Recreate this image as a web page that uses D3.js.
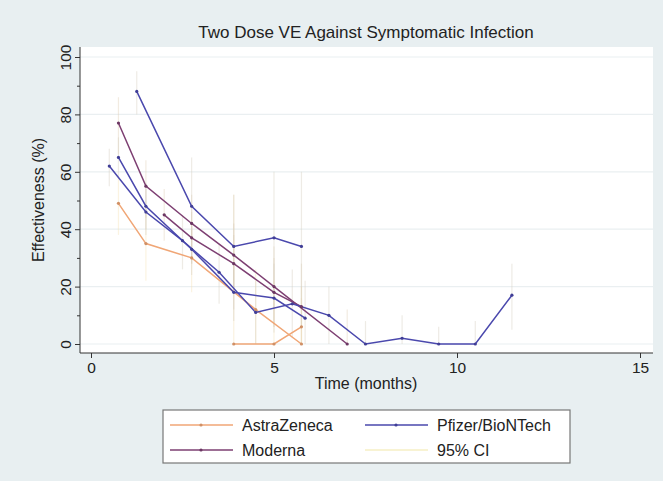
<!DOCTYPE html>
<html>
<head>
<meta charset="utf-8">
<script src="https://cdn.jsdelivr.net/npm/d3@7"></script>
<style>
  body { margin: 0; background: #e8eff1; }
  svg { display: block; font-family: "Liberation Sans", Arial, sans-serif; }
</style>
</head>
<body>
<div id="chart"></div>
<script>
// one set of arrays per study line: time (months), VE (%), 95% CI
const azA_time = [0.75, 1.5, 2.75, 4.5, 5.75];
const azA_ve   = [49, 35, 30, 12, 0];
const azA_lo   = [38, 22, 18, 0, 0];
const azA_hi   = [58, 46, 40, 26, 16];

const azB_time = [3.9, 5, 5.75];
const azB_ve   = [0, 0, 6];
const azB_lo   = [0, 0, 0];
const azB_hi   = [52, 22, 20];

const modA_time = [0.75, 1.5, 2.75, 3.9, 5, 7];
const modA_ve   = [77, 55, 42, 31, 20, 0];
const modA_lo   = [66, 44, 30, 18, 6, 0];
const modA_hi   = [86, 64, 52, 42, 34, 12];

const modB_time = [2, 2.75, 3.9, 5, 5.75];
const modB_ve   = [45, 37, 28, 18, 13];
const modB_lo   = [36, 28, 18, 6, 0];
const modB_hi   = [54, 46, 38, 30, 28];

const pfA_time = [1.25, 2.75, 3.9, 5, 5.75];
const pfA_ve   = [88, 48, 34, 37, 34];
const pfA_lo   = [80, 28, 12, 12, 6];
const pfA_hi   = [95, 65, 52, 60, 60];

const pfB_time = [0.5, 1.5, 2.5, 3.5, 4.5, 5.5, 6.5, 7.5, 8.5, 9.5, 10.5, 11.5];
const pfB_ve   = [62, 46, 36, 25, 11, 14, 10, 0, 2, 0, 0, 17];
const pfB_lo   = [55, 38, 26, 14, 0, 2, 0, 0, 0, 0, 0, 5];
const pfB_hi   = [68, 54, 45, 35, 22, 26, 20, 8, 10, 6, 8, 28];

const pfC_time = [0.75, 1.5, 2.75, 3.9, 5, 5.85];
const pfC_ve   = [65, 48, 33, 18, 16, 9];
const pfC_lo   = [58, 40, 24, 8, 4, 0];
const pfC_hi   = [72, 56, 42, 28, 28, 22];

const vaccines = ["AstraZeneca", "Moderna", "Pfizer/BioNTech"];
const vaccineColors = ["#f0a676", "#7d3f72", "#4a48ad"];
const ciLabel = "95% CI";
const ciColor = "#f6efc4";

const xTicks = [0, 5, 10, 15];
const yTicks = [0, 20, 40, 60, 80, 100];
const yMinorTicks = [10, 30, 50, 70, 90];

const studies = [
    { vaccine: "AstraZeneca", time: azA_time, ve: azA_ve, lo: azA_lo, hi: azA_hi },
    { vaccine: "AstraZeneca", time: azB_time, ve: azB_ve, lo: azB_lo, hi: azB_hi },
    { vaccine: "Moderna", time: modA_time, ve: modA_ve, lo: modA_lo, hi: modA_hi },
    { vaccine: "Moderna", time: modB_time, ve: modB_ve, lo: modB_lo, hi: modB_hi },
    { vaccine: "Pfizer/BioNTech", time: pfA_time, ve: pfA_ve, lo: pfA_lo, hi: pfA_hi },
    { vaccine: "Pfizer/BioNTech", time: pfB_time, ve: pfB_ve, lo: pfB_lo, hi: pfB_hi },
    { vaccine: "Pfizer/BioNTech", time: pfC_time, ve: pfC_ve, lo: pfC_lo, hi: pfC_hi }
];

const width = 663, height = 481;
const plot = { left: 80, right: 653, top: 47, bottom: 353 };

const color = d3.scaleOrdinal().domain(vaccines).range(vaccineColors);
const x = d3.scaleLinear().domain([0, 15]).range([91, 640]);
const y = d3.scaleLinear().domain([0, 100]).range([344, 57]);

const svg = d3.select("#chart").append("svg").attr("width", width).attr("height", height);

svg.append("rect").attr("width", width).attr("height", height).attr("fill", "#e8eff1");
svg.append("rect").attr("x", plot.left).attr("y", plot.top)
    .attr("width", plot.right - plot.left).attr("height", plot.bottom - plot.top).attr("fill", "#fff");

// grid
svg.append("g").selectAll("line").data(yTicks).join("line")
    .attr("x1", plot.left).attr("x2", plot.right)
    .attr("y1", d => y(d)).attr("y2", d => y(d))
    .attr("stroke", "#eaeff1").attr("stroke-width", 1.2);

// title
svg.append("text").attr("x", 366).attr("y", 38).attr("text-anchor", "middle")
    .attr("font-size", 17).attr("fill", "#222").text("Two Dose VE Against Symptomatic Infection");

// axes
const yAxis = svg.append("g").attr("transform", `translate(${plot.left},0)`)
    .call(d3.axisLeft(y).tickValues(yTicks).tickSize(5).tickPadding(4));
yAxis.select(".domain").remove();
svg.append("g").attr("transform", `translate(${plot.left},0)`)
    .call(d3.axisLeft(y).tickValues(yMinorTicks).tickSize(3).tickFormat(""))
    .select(".domain").remove();
yAxis.selectAll("text")
    .attr("transform", "rotate(-90)")
    .attr("x", 0).attr("y", -9).attr("dy", 0)
    .attr("text-anchor", "middle").attr("font-size", 15.5);

const xAxis = svg.append("g").attr("transform", `translate(0,${plot.bottom})`)
    .call(d3.axisBottom(x).tickValues(xTicks).tickSize(5).tickPadding(4));
xAxis.select(".domain").remove();
xAxis.selectAll("text").attr("font-size", 15.5);

svg.append("line").attr("x1", plot.left).attr("x2", plot.left)
    .attr("y1", plot.top).attr("y2", plot.bottom).attr("stroke", "#333");
svg.append("line").attr("x1", plot.left).attr("x2", plot.right)
    .attr("y1", plot.bottom).attr("y2", plot.bottom).attr("stroke", "#333");
svg.selectAll(".tick line").attr("stroke", "#333");
svg.selectAll(".tick text").attr("fill", "#222").attr("font-family", "Liberation Sans, Arial, sans-serif");

svg.append("text").attr("transform", "translate(44,200) rotate(-90)").attr("text-anchor", "middle")
    .attr("font-size", 16).attr("fill", "#222").text("Effectiveness (%)");
svg.append("text").attr("x", 366).attr("y", 389).attr("text-anchor", "middle")
    .attr("font-size", 16).attr("fill", "#222").text("Time (months)");

// CI lines
const pts = studies.flatMap(s => s.time.map((t, i) => ({ t, ve: s.ve[i], lo: s.lo[i], hi: s.hi[i], vaccine: s.vaccine })));
svg.append("g").selectAll("line").data(pts).join("line")
    .attr("x1", d => x(d.t)).attr("x2", d => x(d.t))
    .attr("y1", d => y(d.lo)).attr("y2", d => y(d.hi))
    .attr("stroke", d => d3.interpolateRgb(color(d.vaccine), ciColor)(0.8))
    .attr("stroke-opacity", 0.4)
    .attr("stroke-width", 1.2);

// study lines
const line = d3.line().x(d => x(d[0])).y(d => y(d[1]));
svg.append("g").selectAll("path").data(studies).join("path")
    .attr("d", s => line(s.time.map((t, i) => [t, s.ve[i]])))
    .attr("fill", "none").attr("stroke", s => color(s.vaccine)).attr("stroke-width", 1.5);
svg.append("g").selectAll("circle").data(pts).join("circle")
    .attr("cx", d => x(d.t)).attr("cy", d => y(d.ve)).attr("r", 1.6)
    .attr("fill", d => d3.color(color(d.vaccine)).darker(0.4));

// legend
const lg = svg.append("g");
lg.append("rect").attr("x", 163).attr("y", 410).attr("width", 407).attr("height", 53)
    .attr("fill", "#fff").attr("stroke", "#777").attr("stroke-width", 1.2);
const legendItems = [
    { label: vaccines[0], col: 0, row: 0, stroke: color(vaccines[0]), dot: true },
    { label: vaccines[2], col: 1, row: 0, stroke: color(vaccines[2]), dot: true },
    { label: vaccines[1], col: 0, row: 1, stroke: color(vaccines[1]), dot: true },
    { label: ciLabel, col: 1, row: 1, stroke: ciColor, dot: false }
];
const li = lg.selectAll("g").data(legendItems).join("g")
    .attr("transform", d => `translate(${170 + d.col * 195},${425 + d.row * 25})`);
li.append("line").attr("x1", 0).attr("x2", 63).attr("stroke", d => d.stroke).attr("stroke-width", 1.6);
li.filter(d => d.dot).append("circle").attr("cx", 31).attr("r", 1.6).attr("fill", d => d3.color(d.stroke).darker(0.4));
li.append("text").attr("x", 72).attr("dy", "0.36em").attr("font-size", 16).attr("fill", "#222").text(d => d.label);
</script>
</body>
</html>
